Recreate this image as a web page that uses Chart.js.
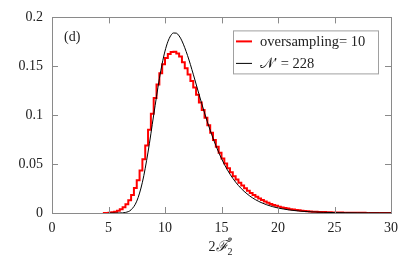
<!DOCTYPE html>
<html>
<head>
<meta charset="utf-8">
<script src="https://cdn.jsdelivr.net/npm/chart.js@4.4.1/dist/chart.umd.min.js"></script>
<style>
  html, body { margin: 0; padding: 0; background: #fff; }
  #wrap { width: 415px; height: 257px; }
</style>
</head>
<body>
<div id="wrap"><canvas id="chart" width="415" height="257"></canvas></div>
<script>
// ---- data ----
const panelLabel = "(d)";
const histLabel = "oversampling= 10";
const curveLabel = "\u{1D4A9}\u2032 = 228";

// histogram: left bin edge of the first bin, bin width, bin heights
const histStart = 4.5;
const histWidth = 0.25;
const histValues = [
  0, 0, 0.0001, 0.0003, 0.0007, 0.0013,
  0.0022, 0.0038, 0.0060, 0.0090, 0.0130, 0.0185, 0.0255, 0.0335,
  0.0435, 0.0550, 0.0690, 0.0850, 0.1015, 0.1175, 0.1315, 0.1430,
  0.1520, 0.1585, 0.1625, 0.1645, 0.1650, 0.1632, 0.1600, 0.1542,
  0.1480, 0.1415, 0.1350, 0.1282, 0.1208, 0.1130, 0.1052, 0.0975,
  0.0897, 0.0820, 0.0747, 0.0678, 0.0615, 0.0557, 0.0505, 0.0458,
  0.0416, 0.0377, 0.0342, 0.0310, 0.0280, 0.0253, 0.0228, 0.0205,
  0.0184, 0.0165, 0.0148, 0.0132, 0.0118, 0.0105, 0.0093, 0.0083,
  0.0073, 0.0065, 0.0057, 0.0051, 0.0045, 0.0039, 0.0035, 0.0031,
  0.0027, 0.0023, 0.0020, 0.0018, 0.0016, 0.0014, 0.0012, 0.0011,
  0.0010, 0.0009, 0.0008, 0.0007, 0.0006, 0.0005, 0.00045, 0.0004,
  0.00035, 0.0003, 0.00027, 0.00024, 0.0002, 0.00018, 0.00016, 0.00014,
  0.00012, 0.0001, 0.00009, 0.00008, 0.00007, 0.00006, 0.00005, 0.00004
];

// smooth black curve
const curveX = [5, 5.5, 6, 6.5, 7, 7.5, 8, 8.5, 9, 9.5, 9.75, 10, 10.25, 10.5, 10.75,
  11, 11.25, 11.5, 12, 12.5, 13, 13.5, 14, 14.5, 15, 15.5, 16, 16.5, 17, 17.5,
  18, 18.5, 19, 19.5, 20, 21, 22, 23, 24, 25, 26, 27, 28, 29, 30];
const curveY = [0, 0, 0.00005, 0.00056, 0.00327, 0.01208, 0.03143, 0.06234, 0.10029,
  0.13721, 0.15277, 0.16555, 0.17506, 0.18121, 0.18406, 0.18389, 0.18106, 0.17597,
  0.16087, 0.14193, 0.12180, 0.10229, 0.08451, 0.06890, 0.05561, 0.04453, 0.03544,
  0.02807, 0.02215, 0.01743, 0.01368, 0.01072, 0.00839, 0.00656, 0.00512, 0.00312,
  0.00190, 0.00115, 0.00070, 0.00043, 0.00026, 0.00016, 0.00009, 0.00006, 0.00003];

const xTicks = [0, 5, 10, 15, 20, 25, 30];
const yTicks = [0, 0.05, 0.1, 0.15, 0.2];

// ---- build points ----
const histPoints = histValues.map((v, i) => ({ x: histStart + i * histWidth, y: v }));
histPoints.push({ x: histStart + histValues.length * histWidth, y: histValues[histValues.length - 1] });
const curvePoints = curveX.map((x, i) => ({ x: x, y: curveY[i] }));

const serif = '"Liberation Serif", "DejaVu Serif", serif';
const axisGray = '#8a8a8a';

// frame, inward ticks, legend box, panel label and axis title
const decorations = {
  id: 'decorations',
  afterDatasetsDraw(chart) {
    const { ctx, chartArea: a, scales } = chart;
    ctx.save();
    ctx.strokeStyle = axisGray;
    ctx.lineWidth = 1;
    ctx.strokeRect(Math.round(a.left) + 0.5, Math.round(a.top) + 0.5,
      Math.round(a.right - a.left), Math.round(a.bottom - a.top));
    const tl = 6;
    ctx.beginPath();
    xTicks.forEach(t => {
      const px = Math.round(scales.x.getPixelForValue(t)) + 0.5;
      ctx.moveTo(px, a.bottom); ctx.lineTo(px, a.bottom - tl);
      ctx.moveTo(px, a.top); ctx.lineTo(px, a.top + tl);
    });
    yTicks.forEach(t => {
      const py = Math.round(scales.y.getPixelForValue(t)) + 0.5;
      ctx.moveTo(a.left, py); ctx.lineTo(a.left + tl, py);
      ctx.moveTo(a.right, py); ctx.lineTo(a.right - tl, py);
    });
    ctx.stroke();

    // panel label
    ctx.fillStyle = '#222';
    ctx.font = '14px ' + serif;
    ctx.textBaseline = 'alphabetic';
    ctx.textAlign = 'left';
    ctx.fillText(panelLabel, a.left + 12, a.top + 24);

    // legend
    const bx = a.right - 158, by = a.top + 13, bw = 145, bh = 43;
    ctx.fillStyle = '#fff';
    ctx.fillRect(bx, by, bw, bh);
    ctx.strokeStyle = '#a0a0a0';
    ctx.strokeRect(bx + 0.5, by + 0.5, bw, bh);
    const items = [
      { text: histLabel, color: '#ff0000', width: 2 },
      { text: curveLabel, color: '#000', width: 1 }
    ];
    ctx.font = '14.5px ' + serif;
    items.forEach((it, i) => {
      const y = by + 11 + i * 22;
      ctx.strokeStyle = it.color;
      ctx.lineWidth = it.width;
      ctx.beginPath();
      ctx.moveTo(bx + 3, y); ctx.lineTo(bx + 19, y);
      ctx.stroke();
      ctx.fillStyle = '#222';
      ctx.textBaseline = 'middle';
      ctx.fillText(it.text, bx + 27, y + 1);
    });

    // x axis title: 2F with sub 2 and sup *
    const cx = scales.x.getPixelForValue(15) - 13;
    const base = a.bottom + 38;
    ctx.textBaseline = 'alphabetic';
    ctx.font = '14px ' + serif;
    ctx.fillText('2', cx, base);
    let w = ctx.measureText('2').width;
    ctx.font = 'italic 15px "DejaVu Serif", serif';
    ctx.fillText('\u2131', cx + w, base);
    w += ctx.measureText('\u2131').width;
    ctx.font = '10px ' + serif;
    ctx.fillText('*', cx + w, base - 7);
    ctx.fillText('2', cx + w, base + 4);
    ctx.restore();
  }
};

new Chart(document.getElementById('chart'), {
  type: 'line',
  data: {
    datasets: [
      {
        label: curveLabel,
        data: curvePoints,
        borderColor: '#000',
        borderWidth: 1,
        pointRadius: 0,
        cubicInterpolationMode: 'monotone',
        order: 0
      },
      {
        label: histLabel,
        data: histPoints,
        borderColor: '#ff0000',
        borderWidth: 2,
        pointRadius: 0,
        stepped: 'after',
        order: 1
      }
    ]
  },
  options: {
    responsive: false,
    animation: false,
    layout: { padding: { top: 15, right: 24, left: 0, bottom: 0 } },
    plugins: { legend: { display: false }, tooltip: { enabled: false } },
    scales: {
      x: {
        type: 'linear',
        min: 0, max: 30,
        afterFit: s => { s.height = 44; },
        afterBuildTicks: s => { s.ticks = xTicks.map(v => ({ value: v })); },
        grid: { display: false, drawTicks: false },
        border: { display: false },
        ticks: { color: '#222', font: { family: serif, size: 14 }, padding: 7, maxRotation: 0 }
      },
      y: {
        type: 'linear',
        min: 0, max: 0.2,
        afterFit: s => { s.width = 52; },
        afterBuildTicks: s => { s.ticks = yTicks.map(v => ({ value: v })); },
        grid: { display: false, drawTicks: false },
        border: { display: false },
        ticks: {
          color: '#222', font: { family: serif, size: 14 }, padding: 9,
          callback: v => String(Number(v.toFixed(2)))
        }
      }
    }
  },
  plugins: [decorations]
});
</script>
</body>
</html>
